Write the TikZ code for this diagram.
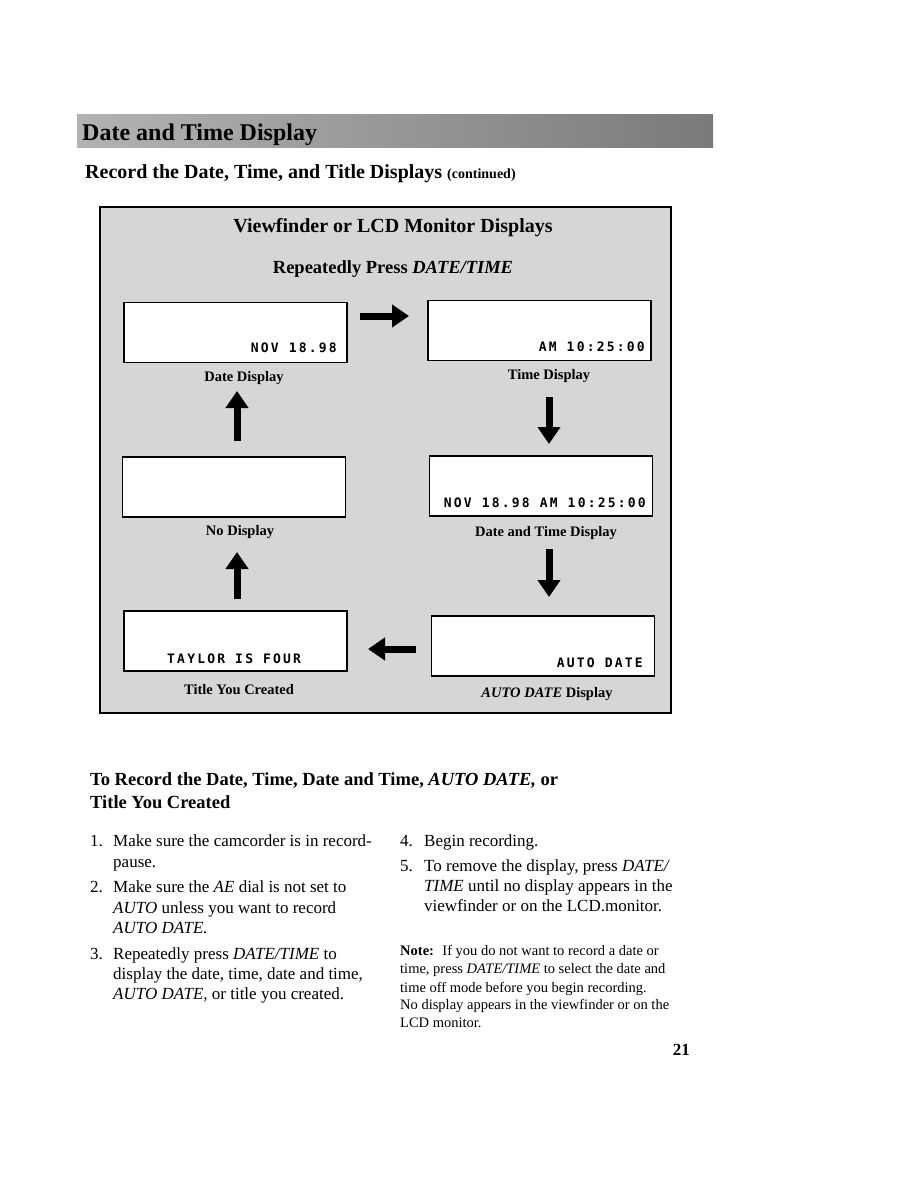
\documentclass[tikz,border=0pt]{standalone}
\usepackage{fontspec}
\setmainfont{Liberation Serif}
\newfontfamily\lcdfont[LetterSpace=17]{DejaVu Sans Mono}
\usetikzlibrary{arrows.meta}
\tikzset{
  lcd/.style={draw, line width=1.6pt, fill=white, minimum width=223pt, minimum height=60pt, inner sep=0pt},
  lcdtext/.style={anchor=base east, inner sep=0pt, font=\lcdfont\bfseries\fontsize{13}{13}\selectfont},
  caption/.style={anchor=base, inner sep=0pt, font=\bfseries\fontsize{14.5}{14.5}\selectfont},
  bigarrow/.style={line width=7pt, -{Triangle[width=22pt,length=17pt]}},
  bodyline/.style={anchor=base west, inner sep=0pt, font=\fontsize{17}{20}\selectfont},
  noteline/.style={anchor=base west, inner sep=0pt, font=\fontsize{14.5}{17}\selectfont}
}
\begin{document}
\begin{tikzpicture}[x=1pt,y=-1pt]
\useasboundingbox[fill=white] (0,0) rectangle (918,1188);
% page header
\shade[left color=black!30, right color=black!52] (77,115) rectangle (713,147);
\node[anchor=base west, inner sep=0pt, font=\bfseries\fontsize{24}{24}\selectfont] (pagehead) at (82,141) {Date and Time Display};
\node[anchor=base west, inner sep=0pt, font=\bfseries\fontsize{20}{20}\selectfont] (section) at (85,178)
  {Record the Date, Time, and Title Displays {\fontsize{14}{14}\selectfont(continued)}};
% the frame
\draw[line width=1.3pt, fill=black!16] (100,207) rectangle (671,713);
\node[anchor=base, inner sep=0pt, font=\bfseries\fontsize{20}{20}\selectfont] (frametitle) at (393,232) {Viewfinder or LCD Monitor Displays};
\node[anchor=base, inner sep=0pt, font=\bfseries\fontsize{18.5}{18.5}\selectfont] (press) at (393,273) {Repeatedly Press \textit{DATE/TIME}};
% displays
\node[lcd] (datebox) at (235.5,332.5) {};
\node[lcd] (timebox) at (539.5,330.5) {};
\node[lcd] (nonebox) at (234,487) {};
\node[lcd] (bothbox) at (541,486) {};
\node[lcd] (titlebox) at (235.5,641) {};
\node[lcd] (autobox) at (543,646) {};
\node[lcdtext] (datetext) at (337,352) {NOV 18.98};
\node[lcdtext] (timetext) at (645,351) {AM 10:25:00};
\node[lcdtext] (bothtext) at (646,507) {NOV 18.98 AM 10:25:00};
\node[lcdtext, anchor=base west] (titletext) at (167,663) {TAYLOR IS FOUR};
\node[lcdtext] (autotext) at (643,667) {AUTO DATE};
% captions
\node[caption] (datecap) at (244,381) {Date Display};
\node[caption] (timecap) at (549,379) {Time Display};
\node[caption] (nonecap) at (240,535) {No Display};
\node[caption] (bothcap) at (546,536) {Date and Time Display};
\node[caption] (titlecap) at (239,694) {Title You Created};
\node[caption] (autocap) at (547,697) {\textit{AUTO DATE} Display};
% arrows
\coordinate (a1) at (360,316);
\coordinate (b1) at (409,316);
\coordinate (a2) at (549,397);
\coordinate (b2) at (549,444);
\coordinate (a3) at (549,549);
\coordinate (b3) at (549,597);
\coordinate (a4) at (416,649);
\coordinate (b4) at (368,649);
\coordinate (a5) at (237,599);
\coordinate (b5) at (237,552);
\coordinate (a6) at (237,441);
\coordinate (b6) at (237,391);
\draw[bigarrow] (a1) -- (b1);
\draw[bigarrow] (a2) -- (b2);
\draw[bigarrow] (a3) -- (b3);
\draw[bigarrow] (a4) -- (b4);
\draw[bigarrow] (a5) -- (b5);
\draw[bigarrow] (a6) -- (b6);
% steps
\node[anchor=base west, inner sep=0pt, font=\bfseries\fontsize{18.5}{18.5}\selectfont] (stephead1) at (90,785)
  {To Record the Date, Time, Date and Time, \textit{AUTO DATE,} or};
\node[anchor=base west, inner sep=0pt, font=\bfseries\fontsize{18.5}{18.5}\selectfont] (stephead2) at (90,808) {Title You Created};
\node[bodyline] (n1) at (90,846) {1.};
\node[bodyline] (s1a) at (113,846) {Make sure the camcorder is in record-};
\node[bodyline] (s1b) at (113,867) {pause.};
\node[bodyline] (n2) at (90,892) {2.};
\node[bodyline] (s2a) at (113,892) {Make sure the \textit{AE} dial is not set to};
\node[bodyline] (s2b) at (113,913) {\textit{AUTO} unless you want to record};
\node[bodyline] (s2c) at (113,933) {\textit{AUTO DATE.}};
\node[bodyline] (n3) at (90,959) {3.};
\node[bodyline] (s3a) at (113,959) {Repeatedly press \textit{DATE/TIME} to};
\node[bodyline] (s3b) at (113,979) {display the date, time, date and time,};
\node[bodyline] (s3c) at (113,999) {\textit{AUTO DATE,} or title you created.};
\node[bodyline] (n4) at (400,846) {4.};
\node[bodyline] (s4a) at (424,846) {Begin recording.};
\node[bodyline] (n5) at (400,871) {5.};
\node[bodyline] (s5a) at (424,871) {To remove the display, press \textit{DATE/}};
\node[bodyline] (s5b) at (424,891) {\textit{TIME} until no display appears in the};
\node[bodyline] (s5c) at (424,911) {viewfinder or on the LCD.monitor.};
% note
\node[noteline] (note1) at (400,955) {\textbf{Note:} ~If you do not want to record a date or};
\node[noteline] (note2) at (400,973) {time, press \textit{DATE/TIME} to select the date and};
\node[noteline] (note3) at (400,992) {time off mode before you begin recording.};
\node[noteline] (note4) at (400,1009) {No display appears in the viewfinder or on the};
\node[noteline] (note5) at (400,1027) {LCD monitor.};
\node[anchor=base east, inner sep=0pt, font=\bfseries\fontsize{17}{17}\selectfont] (pageno) at (690,1055) {21};
\end{tikzpicture}
\end{document}
